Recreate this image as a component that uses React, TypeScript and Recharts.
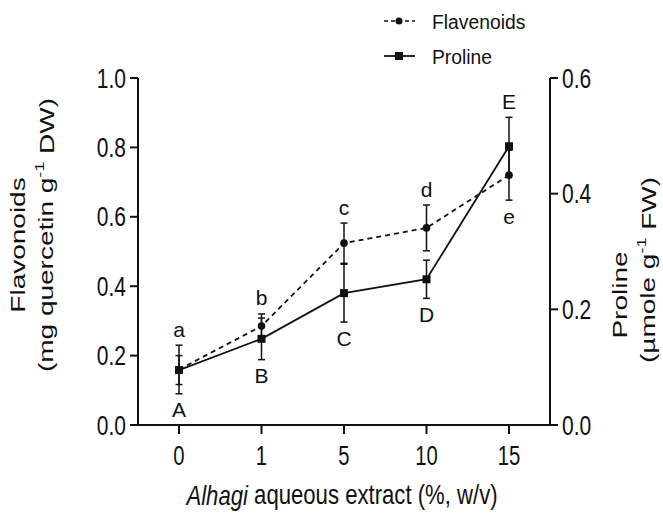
import {
  ComposedChart, Line, XAxis, YAxis, ErrorBar, LabelList
} from 'recharts';

const doses = ['0', '1', '5', '10', '15'];
const flavonoids = [0.16, 0.285, 0.524, 0.568, 0.72];
const flavonoidErr = [0.07, 0.035, 0.058, 0.066, 0.072];
const proline = [0.095, 0.149, 0.228, 0.252, 0.482];
const prolineErr = [0.025, 0.036, 0.05, 0.033, 0.05];
const flavLetters = ['a', 'b', 'c', 'd', 'e'];
const flavLetterSide = ['top', 'top', 'top', 'top', 'bottom'];
const prolineLetters = ['A', 'B', 'C', 'D', 'E'];
const prolineLetterSide = ['bottom', 'bottom', 'bottom', 'bottom', 'top'];
const leftTicks = [0, 0.2, 0.4, 0.6, 0.8, 1.0];
const rightTicks = [0, 0.2, 0.4, 0.6];

const data = doses.map((d, i) => ({
  dose: d,
  flavonoids: flavonoids[i],
  flavErr: flavonoidErr[i],
  proline: proline[i],
  proErr: prolineErr[i],
  flavLetter: flavLetters[i],
  proLetter: prolineLetters[i],
}));

const W = 663;
const H = 522;
const margin = { top: 78, right: 53, bottom: 37, left: 78 };
const PLOT_H = H - margin.top - margin.bottom - 60;
const RIGHT_MAX = 0.6;
const INK = '#111';
const FONT = 'Arial, "Liberation Sans", Helvetica, sans-serif';

// outer extent of both error bars at a dose, in left-axis units
function extent(i: number, side: string) {
  const f = side === 'top' ? flavonoids[i] + flavonoidErr[i] : flavonoids[i] - flavonoidErr[i];
  const p = (side === 'top' ? proline[i] + prolineErr[i] : proline[i] - prolineErr[i]) / RIGHT_MAX;
  return side === 'top' ? Math.max(f, p) : Math.min(f, p);
}

function makeLetter(isFlav: boolean) {
  return (props: any) => {
    const { x, y, value } = props;
    let i = props.index;
    const letters = isFlav ? flavLetters : prolineLetters;
    if (i === undefined) i = letters.indexOf(value);
    const side = isFlav ? flavLetterSide[i] : prolineLetterSide[i];
    const own = isFlav ? flavonoids[i] : proline[i] / RIGHT_MAX;
    const ext = extent(i, side);
    const ly = y - (ext - own) * PLOT_H + (side === 'top' ? -16 : 16);
    return (
      <text x={x} y={ly} textAnchor="middle" dominantBaseline="central"
        fontSize={21} fontFamily={FONT} fill={INK}>
        {value}
      </text>
    );
  };
}

const YTick = (props: any) => {
  const { x, y, payload, textAnchor } = props;
  return (
    <text transform={`translate(${x},${y}) scale(0.75,1)`} textAnchor={textAnchor}
      dominantBaseline="central" fontSize={28} fontFamily={FONT} fill={INK}>
      {Number(payload.value).toFixed(1)}
    </text>
  );
};

const XTick = (props: any) => {
  const { x, y, payload } = props;
  return (
    <text transform={`translate(${x},${y + 17}) scale(0.75,1)`} textAnchor="middle"
      dominantBaseline="central" fontSize={27} fontFamily={FONT} fill={INK}>
      {payload.value}
    </text>
  );
};

const CircleDot = (props: any) => (
  <circle cx={props.cx} cy={props.cy} r={3.8} fill={INK} />
);

const SquareDot = (props: any) => (
  <rect x={props.cx - 4} y={props.cy - 4} width={8} height={8} fill={INK} />
);

export default function App() {
  return (
    <div style={{ position: 'absolute', left: 0, top: 0, width: W, height: H, background: '#fff' }}>
      <ComposedChart width={W} height={H} data={data} margin={margin}>
        <XAxis dataKey="dose" height={60} padding={{ left: 41, right: 41 }}
          axisLine={{ stroke: INK, strokeWidth: 2 }}
          tickLine={{ stroke: INK, strokeWidth: 2 }} tickSize={9} tickMargin={4} tick={<XTick />} />
        <YAxis yAxisId="left" width={60} domain={[0, 1]} ticks={leftTicks}
          axisLine={{ stroke: INK, strokeWidth: 2 }} tickLine={{ stroke: INK, strokeWidth: 2 }}
          tickSize={8} tickMargin={4} tick={<YTick />} />
        <YAxis yAxisId="right" orientation="right" width={60} domain={[0, RIGHT_MAX]} ticks={rightTicks}
          axisLine={{ stroke: INK, strokeWidth: 2 }} tickLine={{ stroke: INK, strokeWidth: 2 }}
          tickSize={8} tickMargin={4} tick={<YTick />} />
        <Line yAxisId="left" dataKey="flavonoids" stroke={INK} strokeWidth={1.8}
          strokeDasharray="5 4" dot={<CircleDot />} activeDot={false} isAnimationActive={false}>
          <ErrorBar dataKey="flavErr" direction="y" width={3.5} stroke={INK} strokeWidth={1.5} />
          <LabelList dataKey="flavLetter" content={makeLetter(true)} />
        </Line>
        <Line yAxisId="right" dataKey="proline" stroke={INK} strokeWidth={1.8}
          dot={<SquareDot />} activeDot={false} isAnimationActive={false}>
          <ErrorBar dataKey="proErr" direction="y" width={3.5} stroke={INK} strokeWidth={1.5} />
          <LabelList dataKey="proLetter" content={makeLetter(false)} />
        </Line>
      </ComposedChart>

      <svg width={W} height={H} style={{ position: 'absolute', left: 0, top: 0, pointerEvents: 'none' }}>
        {/* legend */}
        <line x1={384} x2={415} y1={21} y2={21} stroke={INK} strokeWidth={1.6} strokeDasharray="4 3" />
        <circle cx={399} cy={21} r={3.5} fill={INK} />
        <text transform="translate(432,22) scale(0.92,1)" dominantBaseline="central"
          fontSize={21} fontFamily={FONT} fill={INK}>Flavenoids</text>
        <line x1={384} x2={415} y1={56} y2={56} stroke={INK} strokeWidth={1.8} />
        <rect x={395} y={52} width={8} height={8} fill={INK} />
        <text transform="translate(432,57) scale(0.92,1)" dominantBaseline="central"
          fontSize={21} fontFamily={FONT} fill={INK}>Proline</text>

        {/* left axis title */}
        <text transform="translate(18,245) rotate(-90) scale(1,0.75)" textAnchor="middle"
          dominantBaseline="central" fontSize={28} fontFamily={FONT} fill={INK}>Flavonoids</text>
        <text transform="translate(46,235) rotate(-90) scale(1,0.75)" textAnchor="middle"
          dominantBaseline="central" fontSize={28} fontFamily={FONT} fill={INK}>
          (mg quercetin g<tspan dy={-10} fontSize={18}>-1</tspan><tspan dy={10}> DW)</tspan>
        </text>

        {/* right axis title */}
        <text transform="translate(620,295) rotate(-90) scale(1,0.75)" textAnchor="middle"
          dominantBaseline="central" fontSize={28} fontFamily={FONT} fill={INK}>Proline</text>
        <text transform="translate(648,270) rotate(-90) scale(1,0.75)" textAnchor="middle"
          dominantBaseline="central" fontSize={28} fontFamily={FONT} fill={INK}>
          (µmole g<tspan dy={-10} fontSize={18}>-1</tspan><tspan dy={10}> FW)</tspan>
        </text>

        {/* x axis title */}
        <text transform="translate(342,495) scale(0.82,1)" textAnchor="middle"
          dominantBaseline="central" fontSize={27} fontFamily={FONT} fill={INK}>
          <tspan fontStyle="italic">Alhagi</tspan> aqueous extract (%, w/v)
        </text>
      </svg>
    </div>
  );
}
